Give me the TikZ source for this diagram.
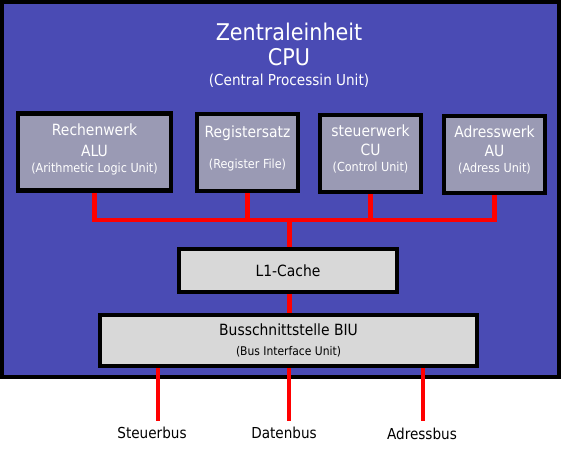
\documentclass[tikz,border=0pt]{standalone}
\usepackage{fontspec}
\setmainfont{DejaVu Sans Condensed}
\usepackage{tikz}
\usetikzlibrary{positioning}

\definecolor{cpublue}{RGB}{74,75,180}
\definecolor{unitgray}{RGB}{154,154,180}
\definecolor{boxgray}{RGB}{216,216,216}
\newcommand{\unitbig}{\fontsize{8.8}{11.5}\selectfont}
\newcommand{\unitsmall}{\fontsize{7.1}{9}\selectfont}

\begin{document}
\begin{tikzpicture}[
  x=0.02cm, y=-0.02cm,
  cpubox/.style={draw=black, fill=cpublue, line width=2.3pt, inner sep=0pt,
    minimum width=11.14cm, minimum height=7.5cm},
  unit/.style={draw=black, fill=unitgray, line width=2.3pt, text=white,
    align=center, inner sep=0pt, minimum height=1.54cm},
  mem/.style={draw=black, fill=boxgray, line width=2.3pt, text=black,
    align=center, inner sep=0pt},
  bus/.style={draw=red, line width=2.5pt},
  lbl/.style={font=\fontsize{8.6}{10}\selectfont, inner sep=0pt},
]
\useasboundingbox (0,0) rectangle (561,464);
% ---------------- CPU container -------------------------------------------
\node[cpubox] (cpu) at (280.5,189.5) {};
\node[text=white, align=center, inner sep=0pt] (title) at (289,55)
  {\fontsize{13.1}{14}\selectfont Zentraleinheit\\[2.2pt]
   \fontsize{13.1}{14}\selectfont CPU\\[-0.5pt]
   \fontsize{8.6}{11}\selectfont (Central Processin Unit)};
% ---------------- functional units ----------------------------------------
\node[unit, minimum width=3.06cm, text depth=4pt] (alu) at (94.5,152)
  {\unitbig Rechenwerk\\ \unitbig ALU\\[-2.8pt]
   \unitsmall (Arithmetic Logic Unit)};
\node[unit, minimum width=2.02cm, text depth=6.3pt] (reg) at (247.5,152.5)
  {\unitbig Registersatz\\[6pt]
   \unitsmall (Register File)};
\node[unit, minimum width=2.02cm, text depth=6.3pt] (cu) at (370.5,153.5)
  {\unitbig steuerwerk\\[-1pt] \unitbig CU\\[-3pt]
   \unitsmall (Control Unit)};
\node[unit, minimum width=2.02cm, text depth=6.5pt] (au) at (494.5,154.5)
  {\unitbig Adresswerk\\[-1pt] \unitbig AU\\[-3pt]
   \unitsmall (Adress Unit)};
% ---------------- cache and bus interface ---------------------------------
\node[mem, minimum width=4.36cm, minimum height=0.86cm] (cache) at (288,270.5)
  {\unitbig L1-Cache};
\node[mem, minimum width=7.54cm, minimum height=1.02cm] (biu) at (288.5,340.5)
  {\unitbig Busschnittstelle BIU\\[-1pt]
   \fontsize{6.8}{8}\selectfont (Bus Interface Unit)};
% ---------------- internal bus --------------------------------------------
\coordinate (j) at (289.5,220);
\draw[bus] (alu.south) |- (j);
\draw[bus] (au.south) |- (j);
\draw[bus] (reg.south) -- (reg.south |- j);
\draw[bus] (cu.south) -- (cu.south |- j);
\draw[bus] (j) -- (j |- cache.north);
\draw[bus] (cache.south -| j) -- (biu.north -| j);
% ---------------- external buses ------------------------------------------
\coordinate (sb) at (158,421);
\coordinate (db) at (289,421);
\coordinate (ab) at (423,421);
\draw[bus] (biu.south -| sb) -- (sb);
\draw[bus] (biu.south -| db) -- (db);
\draw[bus] (biu.south -| ab) -- (ab);
\node[lbl] (steuerbus) at (152,433) {Steuerbus};
\node[lbl] (datenbus) at (284,433) {Datenbus};
\node[lbl] (adressbus) at (422,434) {Adressbus};
\end{tikzpicture}
\end{document}
